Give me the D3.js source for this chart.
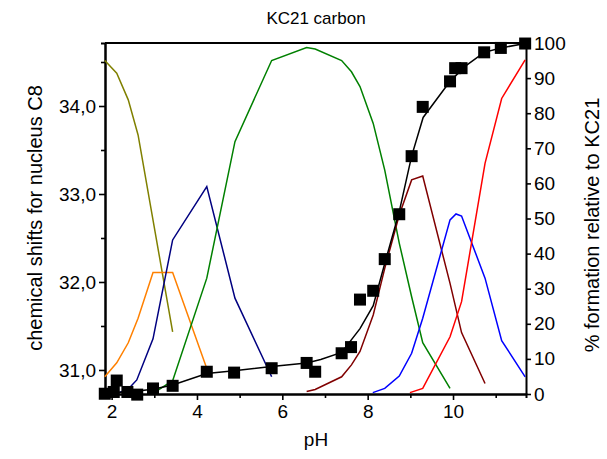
<!DOCTYPE html>
<html>
<head>
<meta charset="utf-8">
<script src="https://cdn.jsdelivr.net/npm/d3@7"></script>
<style>
  body { margin: 0; background: #fff; }
  svg { display: block; font-family: "Liberation Sans", Arial, sans-serif; }
</style>
</head>
<body>
<div id="chart"></div>
<script>
// chemical shift (left axis), black squares + fitted line
const shiftPH  = [1.84, 2.05, 2.12, 2.37, 2.6, 2.97, 3.43, 4.23, 4.87, 5.75, 6.57, 6.77, 7.39, 7.61, 7.82, 8.13, 8.4, 8.74, 9.03, 9.29, 9.93, 10.05, 10.2, 10.73, 11.12, 11.69];
const shiftVal = [30.73, 30.75, 30.88, 30.75, 30.72, 30.79, 30.82, 30.98, 30.97, 31.02, 31.08, 30.98, 31.19, 31.26, 31.8, 31.9, 32.26, 32.77, 33.43, 33.99, 34.28, 34.43, 34.43, 34.61, 34.66, 34.71];
const fitPH  = [2.05, 2.6, 2.97, 3.43, 4.23, 4.87, 5.75, 6.57, 6.9, 7.39, 7.82, 8.13, 8.4, 8.74, 9.03, 9.3, 9.93, 10.28, 10.73, 11.12, 11.69];
const fitVal = [30.74, 30.76, 30.78, 30.83, 30.96, 30.99, 31.04, 31.08, 31.12, 31.2, 31.47, 31.73, 32.21, 32.8, 33.43, 33.87, 34.28, 34.45, 34.61, 34.66, 34.71];

// species distribution (right axis, %)
const olivePH  = [1.84, 2.12, 2.39, 2.62, 3.43];
const oliveVal = [95.0, 91.4, 83.8, 73.8, 17.7];
const orangePH  = [1.84, 2.12, 2.39, 2.62, 2.97, 3.43, 4.23];
const orangeVal = [4.9, 8.9, 14.6, 21.6, 34.6, 34.6, 7.3];
const navyPH  = [2.15, 2.39, 2.59, 2.97, 3.43, 4.23, 4.89, 5.75];
const navyVal = [0.3, 1.4, 4.0, 15.7, 43.9, 59.1, 27.3, 4.9];
const greenPH  = [2.97, 3.43, 4.23, 4.89, 5.75, 6.57, 6.77, 7.39, 7.62, 7.82, 8.13, 8.4, 8.74, 9.03, 9.29, 9.93];
const greenVal = [0.2, 3.8, 33.0, 71.9, 95.0, 98.7, 98.3, 95.0, 91.8, 87.6, 77.1, 63.8, 43.0, 27.7, 14.6, 1.6];
const maroonPH  = [6.57, 6.77, 7.39, 7.62, 7.82, 8.13, 8.4, 8.74, 9.03, 9.29, 9.93, 10.2, 10.75];
const maroonVal = [0.7, 1.3, 4.9, 8.3, 12.1, 22.5, 35.8, 51.0, 61.0, 62.1, 31.5, 17.5, 3.0];
const bluePH  = [8.12, 8.4, 8.74, 9.03, 9.29, 9.93, 10.07, 10.2, 10.75, 11.14, 11.69];
const blueVal = [0.4, 1.6, 5.1, 11.6, 21.6, 49.6, 51.3, 50.7, 33.0, 15.2, 4.9];
const redPH  = [8.99, 9.29, 9.93, 10.2, 10.75, 11.14, 11.69];
const redVal = [0.4, 1.6, 16.3, 26.3, 65.7, 84.2, 95.2];

const xMajor = [2, 4, 6, 8, 10];
const xMinor = [3, 5, 7, 9, 11];
const leftMajor = [31, 32, 33, 34];
const leftMinor = [31.5, 32.5, 33.5, 34.5];
const rightTicks = d3.range(0, 101, 10);

const W = 607, H = 459;
const plot = { left: 105, right: 526, top: 43, bottom: 394 };

const svg = d3.select("#chart").append("svg")
  .attr("width", W).attr("height", H);

const x = d3.scaleLinear().domain([1.845, 11.71]).range([plot.left, plot.right]);
const yL = d3.scaleLinear().domain([30.727, 34.716]).range([plot.bottom, plot.top]);
const yR = d3.scaleLinear().domain([0, 100]).range([plot.bottom, plot.top]);

function styleAxis(g) {
  g.select(".domain").attr("stroke", "#000").attr("stroke-width", 2);
  g.selectAll(".tick line").attr("stroke", "#000").attr("stroke-width", 1.6);
  g.selectAll(".tick text").attr("fill", "#000").style("font-size", "19px");
}

// minor ticks first (no labels)
svg.append("g").attr("transform", `translate(0,${plot.bottom})`)
  .call(d3.axisBottom(x).tickValues(xMinor).tickSize(4).tickFormat(""))
  .call(styleAxis);
svg.append("g").attr("transform", `translate(${plot.left},0)`)
  .call(d3.axisLeft(yL).tickValues(leftMinor).tickSize(4).tickFormat(""))
  .call(styleAxis);

svg.append("g").attr("transform", `translate(0,${plot.bottom})`)
  .call(d3.axisBottom(x).tickValues(xMajor).tickSize(6).tickSizeOuter(0).tickPadding(5))
  .call(styleAxis);
svg.append("g").attr("transform", `translate(${plot.left},0)`)
  .call(d3.axisLeft(yL).tickValues(leftMajor).tickSize(6).tickSizeOuter(0).tickPadding(3)
    .tickFormat(d => d3.format(".1f")(d).replace(".", ",")))
  .call(styleAxis);
svg.append("g").attr("transform", `translate(${plot.right},0)`)
  .call(d3.axisRight(yR).tickValues(rightTicks).tickSize(5).tickSizeOuter(0).tickPadding(3))
  .call(styleAxis);

// top frame
svg.append("line")
  .attr("x1", plot.left).attr("x2", plot.right)
  .attr("y1", plot.top).attr("y2", plot.top)
  .attr("stroke", "#000").attr("stroke-width", 2);

const lineR = d3.line().x(d => x(d[0])).y(d => yR(d[1]));
const lineL = d3.line().x(d => x(d[0])).y(d => yL(d[1]));

const species = [
  [olivePH, oliveVal, "#808000"],
  [orangePH, orangeVal, "#ff8000"],
  [navyPH, navyVal, "#000080"],
  [greenPH, greenVal, "#008000"],
  [maroonPH, maroonVal, "#800000"],
  [bluePH, blueVal, "#0000ff"],
  [redPH, redVal, "#ff0000"]
];

species.forEach(([ph, vals, col]) => {
  svg.append("path")
    .datum(d3.zip(ph, vals))
    .attr("fill", "none")
    .attr("stroke", col)
    .attr("stroke-width", 1.5)
    .attr("d", lineR);
});

svg.append("path")
  .datum(d3.zip(fitPH, fitVal))
  .attr("fill", "none")
  .attr("stroke", "#000")
  .attr("stroke-width", 1.5)
  .attr("d", lineL);

const sq = 12;
svg.selectAll("rect.pt")
  .data(d3.zip(shiftPH, shiftVal))
  .enter().append("rect")
  .attr("class", "pt")
  .attr("x", d => x(d[0]) - sq / 2)
  .attr("y", d => yL(d[1]) - sq / 2)
  .attr("width", sq).attr("height", sq)
  .attr("fill", "#000");

// titles
svg.append("text")
  .attr("x", 316).attr("y", 24)
  .attr("text-anchor", "middle")
  .style("font-size", "17px")
  .text("KC21 carbon");

svg.append("text")
  .attr("x", 316).attr("y", 446)
  .attr("text-anchor", "middle")
  .style("font-size", "19px")
  .text("pH");

svg.append("text")
  .attr("transform", "translate(42,218) rotate(-90)")
  .attr("text-anchor", "middle")
  .style("font-size", "20px")
  .text("chemical shifts for nucleus C8");

svg.append("text")
  .attr("transform", "translate(599,225) rotate(-90)")
  .attr("text-anchor", "middle")
  .style("font-size", "20px")
  .text("% formation relative to KC21");
</script>
</body>
</html>
